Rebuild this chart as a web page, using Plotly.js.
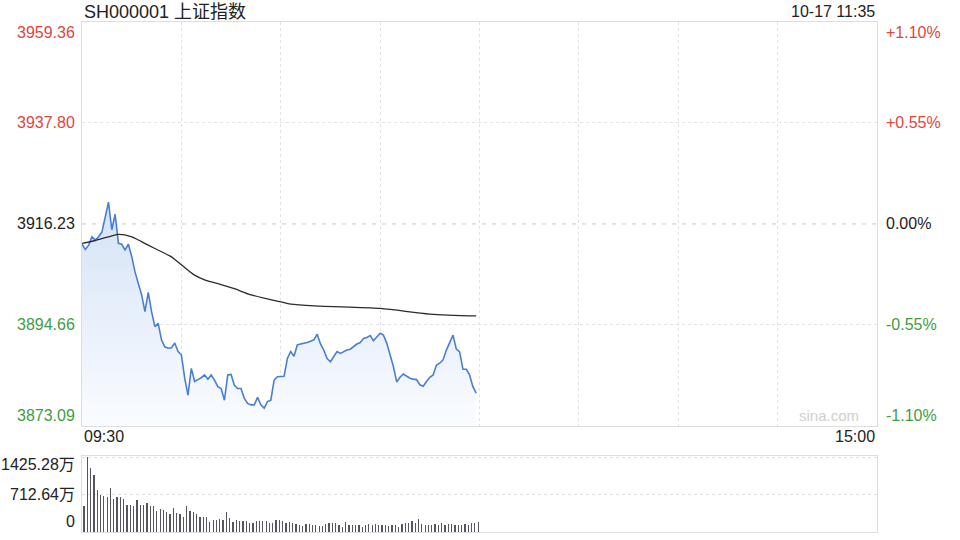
<!DOCTYPE html>
<html>
<head>
<meta charset="utf-8">
<script src="https://cdn.plot.ly/plotly-3.0.1.min.js"></script>
<style>html,body{margin:0;padding:0;background:#fff;}#chart{width:960px;height:540px;}</style>
</head>
<body>
<div id="chart"></div>
<script>
// ---- data ----
const titleText = 'SH000001 上证指数';
const dateText = '10-17 11:35';
const prevClose = 3916.23;
const priceTicks = [3959.36, 3937.80, 3916.23, 3894.66, 3873.09];
const pctTicks = ['+1.10%', '+0.55%', '0.00%', '-0.55%', '-1.10%'];
const volTicks = [1425.28, 712.64, 0];
const volTickText = ['1425.28万', '712.64万', '0'];
const timeLabels = ['09:30', '15:00'];
const totalMinutes = 240;

const minutes = [0,1,2,3,4,5,6,7,8,9,10,11,12,13,14,15,16,17,18,19,20,21,22,23,24,25,26,27,28,29,
  30,31,32,33,34,35,36,37,38,39,40,41,42,43,44,45,46,47,48,49,50,51,52,53,54,55,56,57,58,59,
  60,61,62,63,64,65,66,67,68,69,70,71,72,73,74,75,76,77,78,79,80,81,82,83,84,85,86,87,88,89,
  90,91,92,93,94,95,96,97,98,99,100,101,102,103,104,105,106,107,108,109,110,111,112,113,114,115,116,117,118,119];
const price = [3911.9,3910.8,3911.7,3913.5,3912.8,3913.5,3914.5,3917.4,3920.9,3915.0,3918.3,3912.1,3911.9,3910.7,3911.9,3909.3,3906.0,3903.5,3901.1,3897.5,
  3901.6,3897.5,3894.3,3895.0,3891.5,3890.0,3889.7,3889.8,3890.8,3889.0,
  3888.3,3883.3,3879.7,3885.4,3882.6,3883.0,3883.4,3884.0,3883.1,3884.0,
  3882.9,3881.5,3881.1,3878.6,3884.0,3884.1,3881.8,3881.1,3881.1,3879.0,
  3877.9,3877.6,3877.6,3879.2,3877.6,3876.9,3878.3,3878.6,3882.9,3883.6,
  3883.6,3883.7,3887.5,3889.0,3888.0,3890.4,3890.6,3890.7,3890.9,3891.2,
  3891.5,3892.7,3890.6,3889.3,3887.5,3886.8,3887.9,3889.0,3888.6,3889.0,
  3889.3,3889.5,3890.0,3890.6,3890.9,3891.8,3892.0,3892.4,3891.3,3892.2,
  3892.9,3892.5,3890.8,3888.3,3885.8,3882.5,3883.5,3884.2,3883.8,3883.3,
  3883.1,3883.0,3881.9,3881.6,3882.6,3883.5,3884.0,3886.1,3886.5,3887.2,
  3889.3,3890.9,3892.5,3889.5,3888.9,3885.2,3885.2,3884.0,3881.5,3880.1];

const avgMinutes = [0,4,8,11,15,17,20,24,27,30,34,37,42,46,51,60,63,72,90,105,119];
const avgPrice = [3912.1,3912.7,3913.5,3914.0,3913.5,3912.8,3911.7,3910.3,3909.2,3907.5,3905.3,3904.3,3903.3,3902.4,3901.1,3899.6,3899.1,3898.7,3898.2,3897.0,3896.6];

const volume = [494,1425,1213,1085,802,700,687,674,841,623,674,674,623,520,520,494,603,520,520,546,
  494,494,398,430,411,379,347,462,366,347,289,494,398,379,334,289,289,289,193,225,
  225,250,225,379,263,193,225,205,205,205,173,173,205,205,205,205,173,173,225,225,
  218,173,186,173,154,141,120,161,161,141,128,110,110,161,173,173,173,128,100,186,
  141,141,128,128,100,141,161,128,161,128,141,128,116,128,141,100,161,173,173,205,
  173,238,161,141,128,128,161,141,173,141,161,161,141,141,141,161,141,173,173,186];
const volMinutes = volume.map((v, i) => i);

// ---- styles ----
const FONT = 'Liberation Sans, Arial, Noto Sans CJK SC, sans-serif';
const RED = '#e0463c', GREEN = '#3e9e42', DARK = '#222';
const colorFor = (i) => i < 2 ? RED : (i === 2 ? DARK : GREEN);

const traces = [
  {
    x: minutes, y: price, type: 'scatter', mode: 'lines',
    line: {color: '#4a7fd0', width: 1.6},
    fill: 'tozeroy',
    fillgradient: {type: 'vertical', start: priceTicks[4], stop: prevClose,
      colorscale: [[0, 'rgba(250,252,255,1)'], [1, 'rgba(216,229,247,1)']]},
    xaxis: 'x', yaxis: 'y', hoverinfo: 'skip'
  },
  {
    x: avgMinutes, y: avgPrice, type: 'scatter', mode: 'lines',
    line: {color: '#2b2b2b', width: 1.3, shape: 'spline', smoothing: 0.8},
    xaxis: 'x', yaxis: 'y', hoverinfo: 'skip'
  },
  {
    x: volMinutes, y: volume, type: 'bar', width: 0.38,
    marker: {color: '#55555f', line: {width: 0}},
    xaxis: 'x2', yaxis: 'y2', hoverinfo: 'skip'
  }
];

const annotations = [];
priceTicks.forEach((v, i) => {
  const anchor = i === 0 ? 'top' : (i === priceTicks.length - 1 ? 'bottom' : 'middle');
  annotations.push({xref: 'paper', yref: 'y', x: 0, y: v, xanchor: 'right', yanchor: anchor,
    xshift: -5, showarrow: false, text: v.toFixed(2), font: {family: FONT, size: 16, color: colorFor(i)}});
  annotations.push({xref: 'paper', yref: 'y', x: 1, y: v, xanchor: 'left', yanchor: anchor,
    xshift: 7, showarrow: false, text: pctTicks[i], font: {family: FONT, size: 16, color: colorFor(i)}});
});
volTicks.forEach((v, i) => {
  annotations.push({xref: 'paper', yref: 'y2', x: 0, y: v, xanchor: 'right',
    yanchor: i === 2 ? 'bottom' : 'middle', yshift: i === 0 ? -7 : 0,
    xshift: -5, showarrow: false, text: volTickText[i], font: {family: FONT, size: 16, color: DARK}});
});
annotations.push({xref: 'x', yref: 'paper', x: 0, y: 0.2111, xanchor: 'left', yanchor: 'top',
  showarrow: false, text: timeLabels[0], font: {family: FONT, size: 16, color: DARK}});
annotations.push({xref: 'x', yref: 'paper', x: totalMinutes, y: 0.2111, xanchor: 'right', yanchor: 'top',
  showarrow: false, text: timeLabels[1], font: {family: FONT, size: 16, color: DARK}});
annotations.push({xref: 'paper', yref: 'paper', x: 0, y: 1, xanchor: 'left', yanchor: 'top',
  showarrow: false, text: titleText, font: {family: FONT, size: 18, color: DARK}});
annotations.push({xref: 'paper', yref: 'paper', x: 1, y: 1, xanchor: 'right', yanchor: 'top', yshift: -1,
  showarrow: false, text: dateText, font: {family: FONT, size: 16, color: DARK}});
annotations.push({xref: 'paper', yref: 'y', x: 0.94, y: priceTicks[4], xanchor: 'center', yanchor: 'bottom',
  showarrow: false, text: 'sina.com', font: {family: FONT, size: 15, color: '#cfcfcf'}});

const gridTimes = [30, 60, 90, 120, 150, 180, 210];
const layout = {
  width: 960, height: 540,
  margin: {l: 82, r: 83, t: 0, b: 0, pad: 0},
  paper_bgcolor: '#fff', plot_bgcolor: '#fff',
  showlegend: false,
  xaxis: {domain: [0, 1], range: [0, totalMinutes], anchor: 'y', tickvals: gridTimes, showticklabels: false,
    ticks: '', showgrid: true, gridcolor: '#e2e2e2', griddash: 'dot', gridwidth: 1,
    showline: true, linecolor: '#dedede', mirror: true, zeroline: false, fixedrange: true},
  yaxis: {domain: [0.2111, 0.9593], range: [priceTicks[4], priceTicks[0]], anchor: 'x',
    tickvals: [priceTicks[1], priceTicks[3]], showticklabels: false, ticks: '',
    showgrid: true, gridcolor: '#e2e2e2', griddash: 'dot', gridwidth: 1,
    showline: true, linecolor: '#dedede', mirror: true, zeroline: false, fixedrange: true},
  xaxis2: {domain: [0, 1], range: [-0.6, totalMinutes - 0.6], anchor: 'y2', showticklabels: false, ticks: '',
    showgrid: false, showline: true, linecolor: '#dedede', mirror: true, zeroline: false, fixedrange: true},
  yaxis2: {domain: [0.0148, 0.1556], range: [0, 1445], anchor: 'x2',
    tickvals: [volTicks[0], volTicks[1]], showticklabels: false, ticks: '',
    showgrid: true, gridcolor: '#e0e0e0', griddash: 'dot', gridwidth: 1,
    showline: true, linecolor: '#dedede', mirror: true, zeroline: false, fixedrange: true},
  bargap: 0,
  shapes: [{type: 'line', xref: 'paper', yref: 'y', x0: 0, x1: 1, y0: prevClose, y1: prevClose,
    line: {color: '#c8c8c8', width: 1, dash: '4px,6px'}, layer: 'below'}],
  annotations: annotations
};

Plotly.newPlot('chart', traces, layout, {staticPlot: true, displayModeBar: false});
</script>
</body>
</html>
